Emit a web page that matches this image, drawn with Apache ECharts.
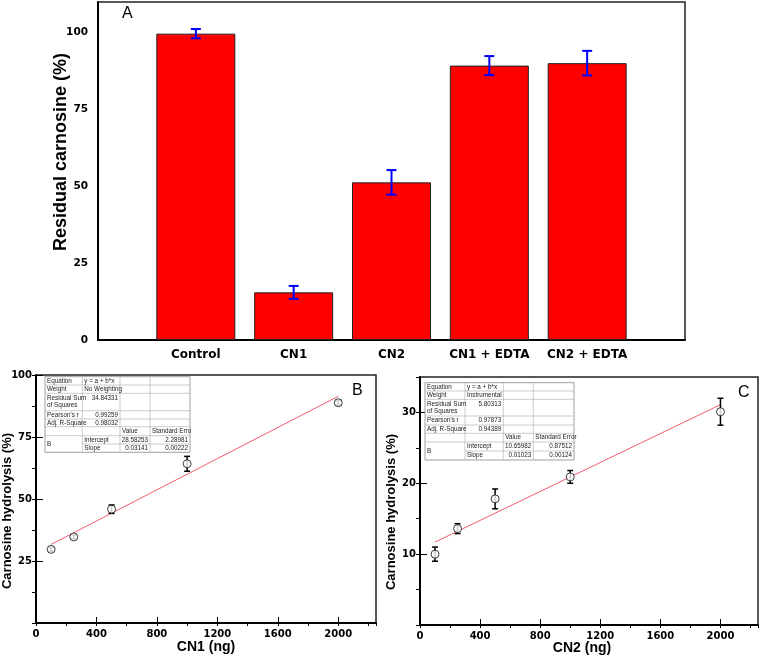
<!DOCTYPE html>
<html><head><meta charset="utf-8">
<script src="https://cdn.jsdelivr.net/npm/echarts@6/dist/echarts.min.js"></script>
<style>html,body{margin:0;padding:0;background:#fff}#c{width:761px;height:659px}</style>
</head><body><div id="c"></div>
<script>
// ---- Data ----
const aCategories = ['Control', 'CN1', 'CN2', 'CN1 + EDTA', 'CN2 + EDTA'];
const aValues = [99.7, 15.5, 51.3, 89.3, 90.1];
const aErrors = [1.5, 2.1, 4.0, 3.1, 4.0];

const bDose = [100, 250, 500, 1000, 2000];
const bValues = [29.7, 34.7, 45.9, 64.2, 88.8];
const bErrors = [0.8, 0.8, 1.7, 3.0, 1.0];
const bFitEnds = [[100, 31.7], [2000, 91.4]];

const cDose = [100, 250, 500, 1000, 2000];
const cValues = [10.0, 13.6, 17.8, 20.9, 30.1];
const cErrors = [1.0, 0.7, 1.4, 0.9, 1.9];
const cFitEnds = [[100, 11.7], [2000, 31.1]];

const tableB = [
  ['Equation', 'y = a + b*x', '', ''],
  ['Weight', 'No Weighting', '', ''],
  ['Residual Sum\nof Squares', '34.84331', '', ''],
  ["Pearson's r", '0.99259', '', ''],
  ['Adj. R-Square', '0.98032', '', ''],
  ['', '', 'Value', 'Standard Erro'],
  ['B', 'Intercept', '28.58253', '2.28981'],
  ['', 'Slope', '0.03141', '0.00222']
];
const tableC = [
  ['Equation', 'y = a + b*x', '', ''],
  ['Weight', 'Instrumental', '', ''],
  ['Residual Sum\nof Squares', '5.80313', '', ''],
  ["Pearson's r", '0.97873', '', ''],
  ['Adj. R-Square', '0.94389', '', ''],
  ['', '', 'Value', 'Standard Error'],
  ['B', 'Intercept', '10.65982', '0.87512'],
  ['', 'Slope', '0.01023', '0.00124']
];

// ---- Layout / styling ----
const layoutTableB = {cols: [45, 82.3, 120, 150, 190], rows: [376.7, 385, 393.3, 410.7, 419, 426.7, 435.7, 444, 452.3]};
const layoutTableC = {cols: [425, 465, 503.3, 533.3, 574], rows: [382.7, 391, 399.3, 416, 425, 433.3, 442, 451, 460]};

const pad = ['', ...aCategories, ''];
const barData = ['-', ...aValues, '-'];
const errA = aValues.map((v, i) => [i + 1, v - aErrors[i], v + aErrors[i]]);
const errB = bDose.map((x, i) => [x, bValues[i] - bErrors[i], bValues[i] + bErrors[i]]);
const errC = cDose.map((x, i) => [x, cValues[i] - cErrors[i], cValues[i] + cErrors[i]]);
const ptsB = bDose.map((x, i) => [x, bValues[i]]);
const ptsC = cDose.map((x, i) => [x, cValues[i]]);

function errRender(cap, color, width) {
  return function (params, api) {
    const x = api.value(0), lo = api.value(1), hi = api.value(2);
    const p1 = api.coord([x, lo]), p2 = api.coord([x, hi]);
    const st = {stroke: color, lineWidth: width};
    return {type: 'group', children: [
      {type: 'line', shape: {x1: p1[0], y1: p1[1], x2: p2[0], y2: p2[1]}, style: st},
      {type: 'line', shape: {x1: p1[0] - cap, y1: p1[1], x2: p1[0] + cap, y2: p1[1]}, style: st},
      {type: 'line', shape: {x1: p2[0] - cap, y1: p2[1], x2: p2[0] + cap, y2: p2[1]}, style: st}
    ]};
  };
}

const boldTick = {fontFamily: 'DejaVu Sans', fontWeight: 'bold', color: '#000'};
const axLine = {show: true, lineStyle: {color: '#000', width: 2}};
const plain = v => String(v);

function valAxis(gridIndex, min, max, interval, opts) {
  return Object.assign({
    type: 'value', gridIndex, min, max, interval,
    splitLine: {show: false},
    axisLine: axLine,
    nameMoveOverlap: false
  }, opts);
}

function buildTable(rows, L) {
  const els = [];
  const c = L.cols, r = L.rows;
  const font = '6.3px "Liberation Sans"';
  els.push({type: 'rect', shape: {x: c[0], y: r[0], width: c[4] - c[0], height: r[8] - r[0]},
    style: {fill: '#fff', stroke: '#888', lineWidth: 0.8}, z: 20});
  for (let i = 1; i < 4; i++) {
    els.push({type: 'line', shape: {x1: c[i], y1: r[0], x2: c[i], y2: r[8]}, style: {stroke: '#aaa', lineWidth: 0.6}, z: 21});
  }
  for (let j = 1; j < 8; j++) {
    const x1 = j === 7 ? c[1] : c[0];
    els.push({type: 'line', shape: {x1: x1, y1: r[j], x2: c[4], y2: r[j]}, style: {stroke: '#aaa', lineWidth: 0.6}, z: 21});
  }
  rows.forEach((row, j) => {
    row.forEach((txt, i) => {
      if (!txt) return;
      const numeric = /^[0-9.]+$/.test(txt);
      let y = (r[j] + r[j + 1]) / 2, va = 'middle';
      if (j === 2 && i === 1) { y = r[j] + 1.2; va = 'top'; }
      if (j === 6 && i === 0) { y = r[7]; }
      els.push({type: 'text', z: 22, style: {
        text: txt, x: numeric ? c[i + 1] - 2 : c[i] + 2, y: y,
        align: numeric ? 'right' : 'left', verticalAlign: va,
        font: font, fill: '#222', lineHeight: 7
      }});
    });
  });
  return els;
}

const gridBase = {show: true, borderColor: '#222', borderWidth: 1.5, backgroundColor: 'transparent', containLabel: false, outerBoundsMode: 'none'};

const chart = echarts.init(document.getElementById('c'), null, {renderer: 'canvas'});
chart.setOption({
  animation: false,
  backgroundColor: '#fff',
  grid: [
    Object.assign({left: 98, top: 2, width: 587, height: 338}, gridBase),
    Object.assign({left: 36, top: 375, width: 340, height: 248}, gridBase),
    Object.assign({left: 420, top: 377, width: 338, height: 248}, gridBase)
  ],
  xAxis: [
    {type: 'category', gridIndex: 0, data: pad, boundaryGap: false,
      axisLine: axLine, axisTick: {show: false},
      axisLabel: Object.assign({fontSize: 12, margin: 9, interval: 0}, boldTick)},
    valAxis(1, 0, 2250, 400, {axisTick: {inside: true, length: 6, lineStyle: {color: '#000', width: 1}},
      axisLabel: Object.assign({fontSize: 10, margin: 6, showMaxLabel: false, formatter: plain}, boldTick),
      name: 'CN1 (ng)', nameLocation: 'middle', nameGap: 17,
      nameTextStyle: {fontFamily: 'Liberation Sans', fontWeight: 'bold', fontSize: 14, color: '#000', verticalAlign: 'top'}}),
    valAxis(1, 0, 2250, 200, {axisLine: {show: false}, axisLabel: {show: false},
      axisTick: {inside: true, length: 3, lineStyle: {color: '#000', width: 1}}}),
    valAxis(2, 0, 2250, 400, {axisTick: {inside: true, length: 6, lineStyle: {color: '#000', width: 1}},
      axisLabel: Object.assign({fontSize: 10, margin: 6, showMaxLabel: false, formatter: plain}, boldTick),
      name: 'CN2 (ng)', nameLocation: 'middle', nameGap: 16,
      nameTextStyle: {fontFamily: 'Liberation Sans', fontWeight: 'bold', fontSize: 14, color: '#000', verticalAlign: 'top', padding: [0, 14, 0, 0]}}),
    valAxis(2, 0, 2250, 200, {axisLine: {show: false}, axisLabel: {show: false},
      axisTick: {inside: true, length: 3, lineStyle: {color: '#000', width: 1}}})
  ],
  yAxis: [
    valAxis(0, 0, 110, 25, {axisTick: {inside: true, length: 9, lineStyle: {color: '#000', width: 1.2}},
      axisLabel: Object.assign({fontSize: 10.5, margin: 10, showMaxLabel: false}, boldTick),
      name: 'Residual carnosine (%)', nameLocation: 'middle', nameGap: 28, nameRotate: 90,
      nameTextStyle: {fontFamily: 'Liberation Sans', fontWeight: 'bold', fontSize: 18, color: '#000', padding: [0, 0, 0, 38]}}),
    valAxis(0, 0, 110, 12.5, {axisLine: {show: false}, axisLabel: {show: false},
      axisTick: {inside: true, length: 5, lineStyle: {color: '#000', width: 1.2}}}),
    valAxis(1, 0, 100, 25, {axisTick: {inside: true, length: 7, lineStyle: {color: '#000', width: 1}},
      axisLabel: Object.assign({fontSize: 10, margin: 4, showMinLabel: false}, boldTick),
      name: 'Carnosine hydrolysis (%)', nameLocation: 'middle', nameGap: 22, nameRotate: 90,
      nameTextStyle: {fontFamily: 'Liberation Sans', fontWeight: 'bold', fontSize: 13, color: '#000', padding: [0, 24, 0, 0]}}),
    valAxis(1, 0, 100, 12.5, {axisLine: {show: false}, axisLabel: {show: false},
      axisTick: {inside: true, length: 4, lineStyle: {color: '#000', width: 1}}}),
    valAxis(2, 0, 35, 10, {axisTick: {inside: true, length: 7, lineStyle: {color: '#000', width: 1}},
      axisLabel: Object.assign({fontSize: 10, margin: 4, showMinLabel: false, showMaxLabel: false}, boldTick),
      name: 'Carnosine hydrolysis (%)', nameLocation: 'middle', nameGap: 22, nameRotate: 90,
      nameTextStyle: {fontFamily: 'Liberation Sans', fontWeight: 'bold', fontSize: 13, color: '#000', padding: [0, 22, 0, 0]}}),
    valAxis(2, 0, 35, 5, {axisLine: {show: false}, axisLabel: {show: false},
      axisTick: {inside: true, length: 4, lineStyle: {color: '#000', width: 1}}})
  ],
  series: [
    {type: 'bar', xAxisIndex: 0, yAxisIndex: 0, data: barData, barWidth: 79,
      itemStyle: {color: '#ff0000', borderColor: '#222', borderWidth: 1}},
    {type: 'custom', xAxisIndex: 0, yAxisIndex: 0, data: errA, encode: {x: 0, y: [1, 2]},
      renderItem: errRender(5, '#0000ff', 2), z: 5},
    {type: 'line', xAxisIndex: 1, yAxisIndex: 2, data: bFitEnds, symbol: 'none',
      lineStyle: {color: '#f25c6e', width: 1}, z: 3},
    {type: 'custom', xAxisIndex: 1, yAxisIndex: 2, data: errB, encode: {x: 0, y: [1, 2]},
      renderItem: errRender(3, '#000', 1.5), z: 4},
    {type: 'scatter', xAxisIndex: 1, yAxisIndex: 2, data: ptsB, symbol: 'circle', symbolSize: 8,
      itemStyle: {color: '#fff', borderColor: '#111', borderWidth: 1}, z: 6},
    {type: 'line', xAxisIndex: 3, yAxisIndex: 4, data: cFitEnds, symbol: 'none',
      lineStyle: {color: '#f25c6e', width: 1}, z: 3},
    {type: 'custom', xAxisIndex: 3, yAxisIndex: 4, data: errC, encode: {x: 0, y: [1, 2]},
      renderItem: errRender(3, '#000', 1.5), z: 4},
    {type: 'scatter', xAxisIndex: 3, yAxisIndex: 4, data: ptsC, symbol: 'circle', symbolSize: 8,
      itemStyle: {color: '#fff', borderColor: '#111', borderWidth: 1}, z: 6}
  ],
  graphic: [
    {type: 'text', left: 122, top: 6, style: {text: 'A', font: '16px "Liberation Sans"', fill: '#000'}},
    {type: 'text', left: 352, top: 383, style: {text: 'B', font: '16px "Liberation Sans"', fill: '#000'}},
    {type: 'text', left: 738, top: 385, style: {text: 'C', font: '16px "Liberation Sans"', fill: '#000'}},
    ...buildTable(tableB, layoutTableB),
    ...buildTable(tableC, layoutTableC)
  ]
});
</script></body></html>
